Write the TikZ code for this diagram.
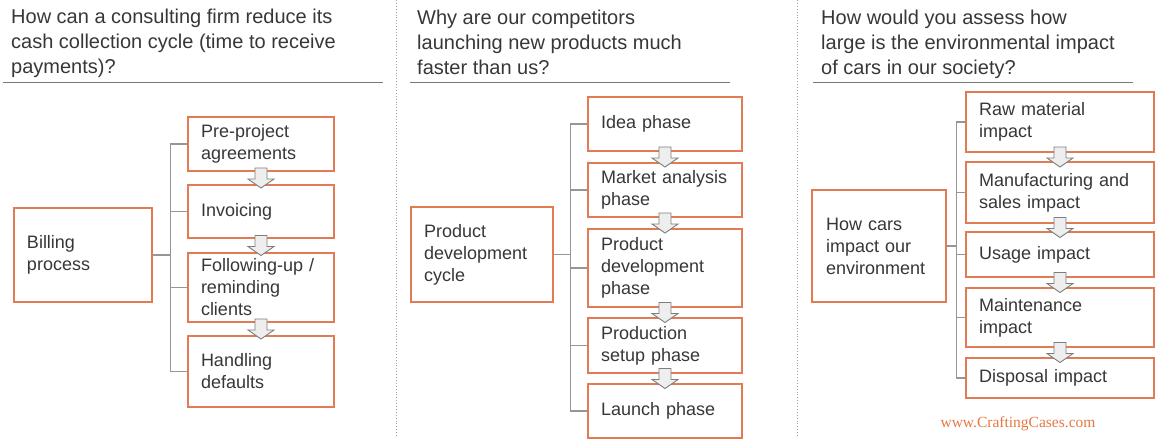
\documentclass[tikz,border=0pt]{standalone}
\usepackage{fontspec}
\setmainfont{Liberation Sans}
\newfontfamily\urlfont{Liberation Serif}
\usetikzlibrary{calc}
\definecolor{boxor}{RGB}{226,122,84}
\definecolor{txt}{RGB}{55,55,55}
\definecolor{connc}{RGB}{150,150,150}
\definecolor{rulec}{RGB}{120,120,120}
\definecolor{divc}{RGB}{160,160,160}
\definecolor{arrfill}{RGB}{238,238,238}
\definecolor{arrline}{RGB}{125,125,125}
\definecolor{urlc}{RGB}{228,120,66}
\tikzset{
  box/.style={draw=boxor, line width=1.2pt, fill=white, inner xsep=13pt, inner ysep=0pt,
    align=left, text=txt, font=\fontsize{18}{22}\selectfont},
  qtitle/.style={anchor=north west, inner sep=0pt, align=left, text=txt,
    font=\fontsize{20}{25}\selectfont},
  conn/.style={draw=connc, line width=1.2pt},
  hrule/.style={draw=rulec, line width=1pt},
  divider/.style={draw=divc, line width=0.9pt, dotted},
  blk/.style={fill=arrfill, draw=arrline, line width=0.9pt, line join=miter},
}
\newcommand\blkarrow[2]{%
  \coordinate (m) at ($(#1.south)!0.5!(#2.north)$);
  \draw[blk] ($(m)+(-6,-10)$) -- ++(12,0) -- ++(0,11) -- ++(7,0) -- ++(-13,9)
    -- ++(-13,-9) -- ++(7,0) -- cycle;}
\begin{document}
\begin{tikzpicture}[x=1pt,y=-1pt]
\useasboundingbox (0,0) rectangle (1164,447);
% dividers
\draw[divider] (396,0) coordinate (v1a) -- (396,437) coordinate (v1b);
\draw[divider] (797,0) coordinate (v2a) -- (797,437) coordinate (v2b);
% titles
\node[qtitle] (t1) at (11,9) {How can a consulting firm reduce its\\cash collection cycle (time to receive\\payments)?};
\node[qtitle] (t2) at (417,10) {Why are our competitors\\launching new products much\\faster than us?};
\node[qtitle] (t3) at (821,10) {How would you assess how\\large is the environmental impact\\of cars in our society?};
\draw[hrule] (3,82) coordinate (r1a) -- (383,82) coordinate (r1b);
\draw[hrule] (410,82) coordinate (r2a) -- (730,82) coordinate (r2b);
\draw[hrule] (813,82) coordinate (r3a) -- (1133,82) coordinate (r3b);
% panel 1
\node[box, text width=112pt, minimum height=94pt] (b0) at (83,255) {Billing\\process};
\node[box, text width=120pt, minimum height=54pt] (b1) at (261,144) {Pre-project\\agreements};
\node[box, text width=120pt, minimum height=53pt] (b2) at (261,211.5) {Invoicing};
\node[box, text width=120pt, minimum height=69pt] (b3) at (261,287.5) {Following-up /\\reminding\\clients};
\node[box, text width=120pt, minimum height=71pt] (b4) at (261,371.5) {Handling\\defaults};
\coordinate (j1) at ($(b0.east)+(18,0)$);
\draw[conn] (b0.east) -- (j1);
\foreach \c in {b1,b2,b3,b4} \draw[conn] (j1) |- (\c.west);
\blkarrow{b1}{b2}
\blkarrow{b2}{b3}
\blkarrow{b3}{b4}
% panel 2
\node[box, text width=116pt, minimum height=95pt] (c0) at (482,254.5) {Product\\development\\cycle};
\node[box, text width=128pt, minimum height=54pt] (c1) at (665,124) {Idea phase};
\node[box, text width=128pt, minimum height=54pt] (c2) at (665,190) {Market analysis\\phase};
\node[box, text width=128pt, minimum height=78pt] (c3) at (665,268) {Product\\development\\phase};
\node[box, text width=128pt, minimum height=55pt] (c4) at (665,345.5) {Production\\setup phase};
\node[box, text width=128pt, minimum height=54pt] (c5) at (665,411) {Launch phase};
\coordinate (j2) at ($(c0.east)+(17,0)$);
\draw[conn] (c0.east) -- (j2);
\foreach \c in {c1,c2,c3,c4,c5} \draw[conn] (j2) |- (\c.west);
\blkarrow{c1}{c2}
\blkarrow{c2}{c3}
\blkarrow{c3}{c4}
\blkarrow{c4}{c5}
% panel 3
\node[box, inner xsep=14pt, text width=106pt, minimum height=112pt] (d0) at (879,246) {How cars\\impact our\\environment};
\node[box, text width=162pt, minimum height=60pt] (d1) at (1060,122) {Raw material\\impact};
\node[box, text width=162pt, minimum height=61pt] (d2) at (1060,192.5) {Manufacturing and\\sales impact};
\node[box, text width=162pt, minimum height=45pt] (d3) at (1060,254.5) {Usage impact};
\node[box, text width=162pt, minimum height=59pt] (d4) at (1060,317.5) {Maintenance\\impact};
\node[box, text width=162pt, minimum height=40pt] (d5) at (1060,378) {Disposal impact};
\coordinate (j3) at ($(d0.east)+(10,0)$);
\draw[conn] (d0.east) -- (j3);
\foreach \c in {d1,d2,d3,d4,d5} \draw[conn] (j3) |- (\c.west);
\blkarrow{d1}{d2}
\blkarrow{d2}{d3}
\blkarrow{d3}{d4}
\blkarrow{d4}{d5}
% url
\node[font=\urlfont\fontsize{15.5}{18}\selectfont, text=urlc, anchor=base, inner sep=0pt] (url) at (1018,427) {www.CraftingCases.com};
\end{tikzpicture}
\end{document}
